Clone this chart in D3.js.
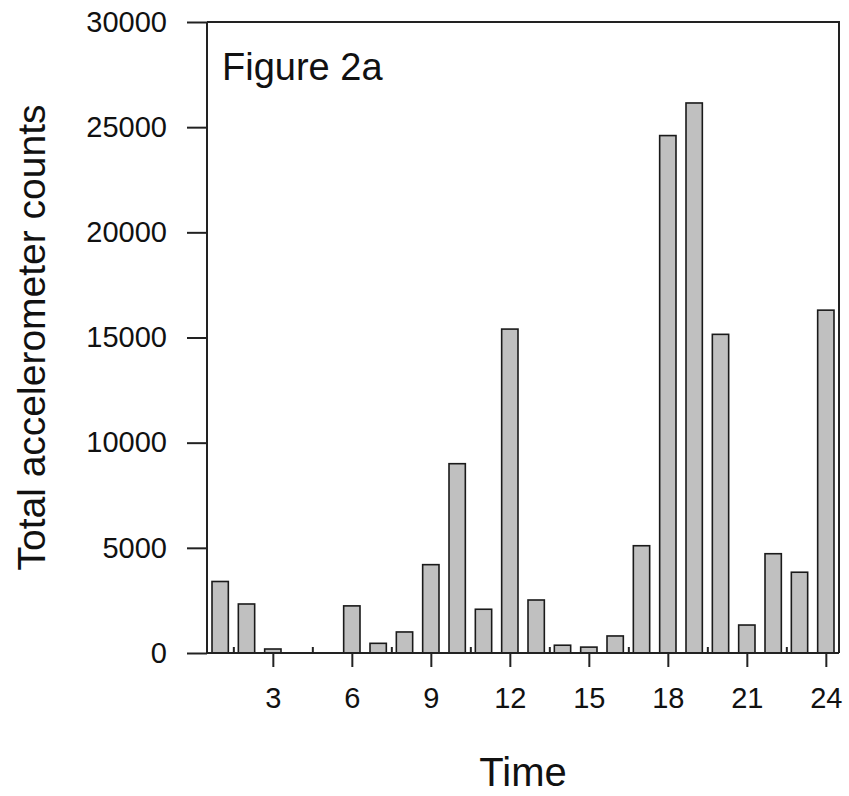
<!DOCTYPE html>
<html>
<head>
<meta charset="utf-8">
<script src="https://cdn.jsdelivr.net/npm/d3@7"></script>
<style>
  body { margin: 0; background: #fff; }
  svg text { font-family: "Liberation Sans", Arial, sans-serif; fill: #111; }
</style>
</head>
<body>
<div id="chart"></div>
<script>
const hours = [1, 2, 3, 4, 5, 6, 7, 8, 9, 10, 11, 12, 13, 14, 15, 16, 17, 18, 19, 20, 21, 22, 23, 24];
const counts = [3400, 2330, 190, 0, 0, 2240, 460, 1000, 4200, 9000, 2080, 15400,
                2520, 370, 280, 810, 5100, 24600, 26150, 15150, 1330, 4720, 3840, 16300];
const xTicks = [3, 6, 9, 12, 15, 18, 21, 24];
const xMinorTicks = [1.5, 4.5, 7.5, 10.5, 13.5, 16.5, 19.5, 22.5];
const yTicks = [0, 5000, 10000, 15000, 20000, 25000, 30000];

const svgWidth = 849;
const svgHeight = 796;
const plotLeft = 207;
const plotRight = 839;
const plotTop = 22;
const plotBottom = 653;
const barFrac = 0.62;

const svg = d3.select("#chart")
    .append("svg")
    .attr("width", svgWidth)
    .attr("height", svgHeight);

const scaleX = d3.scaleLinear()
    .domain([0.5, 24.5])
    .range([plotLeft, plotRight]);
const scaleY = d3.scaleLinear()
    .domain([0, 30000])
    .range([plotBottom, plotTop]);

const dataset = hours.map((h, i) => ({ hour: h, value: counts[i] }));
const barW = scaleX(1 + barFrac) - scaleX(1);

// bars
svg.append("g")
    .selectAll("rect")
    .data(dataset.filter(d => d.value > 0))
    .enter()
    .append("rect")
    .attr("x", d => scaleX(d.hour) - barW / 2)
    .attr("y", d => scaleY(d.value))
    .attr("width", barW)
    .attr("height", d => scaleY(0) - scaleY(d.value))
    .attr("fill", "#c0c0c0")
    .attr("stroke", "#1a1a1a")
    .attr("stroke-width", 1.6);

// frame (top and right)
svg.append("path")
    .attr("d", `M${plotLeft},${plotTop}H${plotRight}V${plotBottom}`)
    .attr("fill", "none")
    .attr("stroke", "#222")
    .attr("stroke-width", 2);

const yAxis = d3.axisLeft(scaleY)
    .tickValues(yTicks)
    .tickSize(20)
    .tickPadding(20)
    .tickFormat(d3.format("d"));
const gy = svg.append("g")
    .attr("transform", `translate(${plotLeft},0)`)
    .call(yAxis);
gy.select(".domain").remove();
gy.append("line")
    .attr("x1", 0).attr("x2", 0)
    .attr("y1", plotTop).attr("y2", plotBottom)
    .attr("stroke", "#222").attr("stroke-width", 2);
gy.selectAll(".tick line").attr("stroke", "#222").attr("stroke-width", 2);
gy.selectAll(".tick text").style("font-size", "29px").attr("fill", "#111");

const xAxis = d3.axisBottom(scaleX)
    .tickValues(xTicks)
    .tickSize(14)
    .tickPadding(20)
    .tickFormat(d3.format("d"));
const gx = svg.append("g")
    .attr("transform", `translate(0,${plotBottom})`)
    .call(xAxis);
gx.select(".domain").remove();
gx.append("line")
    .attr("x1", plotLeft).attr("x2", plotRight)
    .attr("y1", 0).attr("y2", 0)
    .attr("stroke", "#222").attr("stroke-width", 2);
gx.selectAll(".tick line").attr("stroke", "#222").attr("stroke-width", 2);
gx.selectAll(".tick text").style("font-size", "29px").attr("fill", "#111");

// small inward minor ticks
const gxMinor = svg.append("g")
    .attr("transform", `translate(0,${plotBottom})`)
    .call(d3.axisBottom(scaleX).tickValues(xMinorTicks).tickSize(-6).tickFormat(""));
gxMinor.select(".domain").remove();
gxMinor.selectAll(".tick line").attr("stroke", "#222").attr("stroke-width", 2);

// labels
svg.append("text")
    .attr("x", 222)
    .attr("y", 80)
    .style("font-size", "38px")
    .text("Figure 2a");

svg.append("text")
    .attr("text-anchor", "middle")
    .attr("x", (plotLeft + plotRight) / 2)
    .attr("y", 786)
    .style("font-size", "40px")
    .text("Time");

svg.append("text")
    .attr("text-anchor", "middle")
    .attr("transform", `translate(45,${(plotTop + plotBottom) / 2}) rotate(-90)`)
    .style("font-size", "39px")
    .text("Total accelerometer counts");
</script>
</body>
</html>
